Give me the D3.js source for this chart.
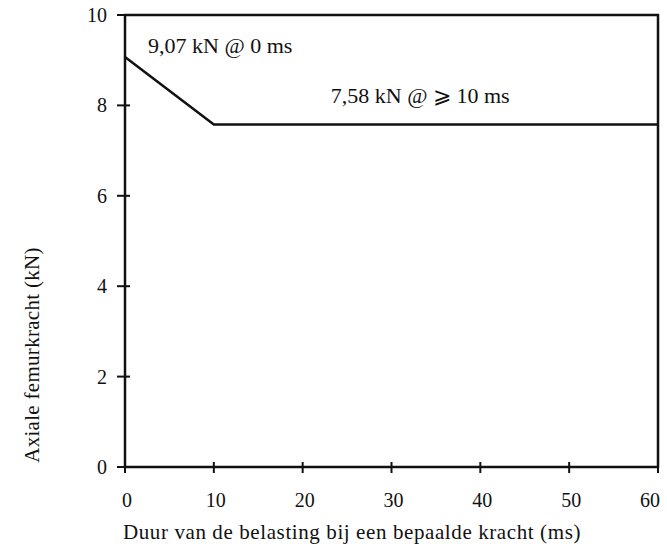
<!DOCTYPE html>
<html>
<head>
<meta charset="utf-8">
<script src="https://cdn.jsdelivr.net/npm/d3@7"></script>
<style>
  body { margin: 0; background: #fff; }
  text { font-family: "Liberation Serif", "DejaVu Serif", "Times New Roman", serif; fill: #111; }
</style>
</head>
<body>
<svg id="chart" width="667" height="551"></svg>
<script>
// data
var duur = [0, 10, 60];          // ms
var kracht = [9.07, 7.58, 7.58]; // kN
var xTicks = [0, 10, 20, 30, 40, 50, 60];
var yTicks = [0, 2, 4, 6, 8, 10];
var notes = [
  { x: 0, y: 9.07, text: "9,07 kN @ 0 ms" },
  { x: 10, y: 7.58, text: "7,58 kN @ \u2A7E 10 ms" }
];

var svg = d3.select("#chart");
var mLeft = 125, mRight = 658, mTop = 15, mBottom = 467;

var x = d3.scaleLinear().domain([0, 60]).range([mLeft, mRight]);
var y = d3.scaleLinear().domain([0, 10]).range([mBottom, mTop]);

// frame: left axis, top, right and bottom
svg.append("rect")
  .attr("x", x(0)).attr("y", y(10))
  .attr("width", x(60) - x(0)).attr("height", y(0) - y(10))
  .attr("fill", "none").attr("stroke", "#111").attr("stroke-width", 2.5);

// y ticks cross the axis
svg.selectAll(".yt").data(yTicks).enter().append("line")
  .attr("x1", x(0) - 8).attr("x2", x(0) + 5)
  .attr("y1", d => y(d)).attr("y2", d => y(d))
  .attr("stroke", "#111").attr("stroke-width", 2);

svg.selectAll(".yl").data(yTicks).enter().append("text")
  .attr("x", x(0) - 18).attr("y", d => y(d) + 7)
  .attr("text-anchor", "end").attr("font-size", 20)
  .text(d => d);

// x ticks
svg.selectAll(".xt").data(xTicks).enter().append("line")
  .attr("x1", d => x(d)).attr("x2", d => x(d))
  .attr("y1", y(0) - 5).attr("y2", y(0) + 6)
  .attr("stroke", "#111").attr("stroke-width", 2);

svg.selectAll(".xl").data(xTicks).enter().append("text")
  .attr("x", d => x(d) + (d === 60 ? -8 : 2)).attr("y", y(0) + 40)
  .attr("text-anchor", "middle").attr("font-size", 20)
  .text(d => d);

// curve
var line = d3.line().x((d, i) => x(duur[i])).y(d => y(d));
svg.append("path")
  .attr("d", line(kracht))
  .attr("fill", "none").attr("stroke", "#111").attr("stroke-width", 2.5);

// annotations
svg.append("text")
  .attr("x", x(notes[0].x) + 23).attr("y", y(notes[0].y) - 4)
  .attr("font-size", 22).text(notes[0].text);
svg.append("text")
  .attr("x", x(notes[1].x) + 117).attr("y", y(notes[1].y) - 21)
  .attr("font-size", 22).text(notes[1].text);

// axis titles
svg.append("text")
  .attr("x", 352).attr("y", 539)
  .attr("text-anchor", "middle").attr("font-size", 21)
  .attr("letter-spacing", 0.6)
  .text("Duur van de belasting bij een bepaalde kracht (ms)");

svg.append("text")
  .attr("transform", "translate(39,355) rotate(-90)")
  .attr("text-anchor", "middle").attr("font-size", 21)
  .attr("letter-spacing", 0.3)
  .text("Axiale femurkracht (kN)");
</script>
</body>
</html>
